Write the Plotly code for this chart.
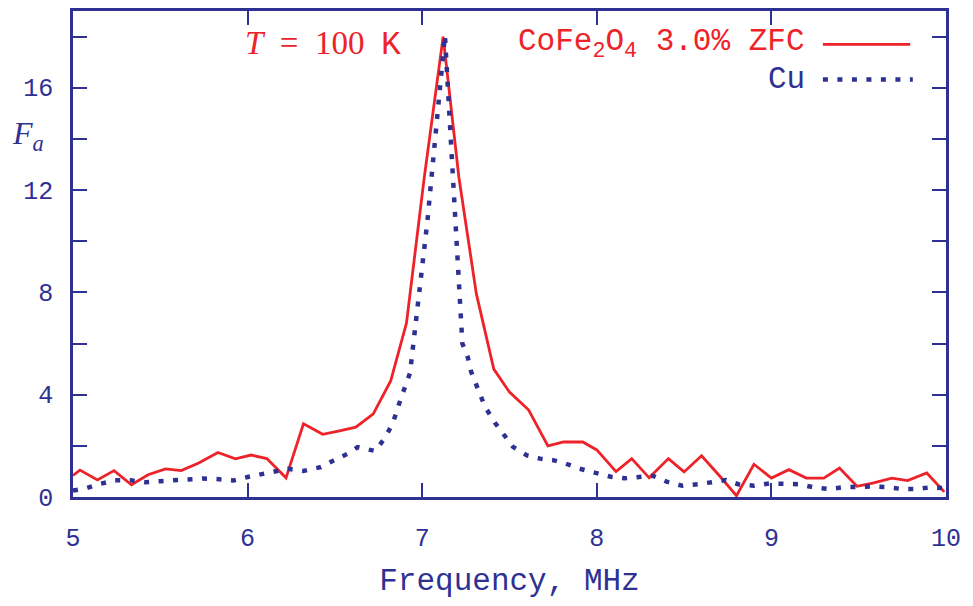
import plotly.graph_objects as go

# ---- data ----
red_f = [5.00, 5.04, 5.14, 5.235, 5.335, 5.43, 5.53, 5.62, 5.72, 5.83,
         5.93, 6.02, 6.11, 6.22, 6.32, 6.43, 6.52, 6.62, 6.72, 6.82,
         6.91, 7.01, 7.12, 7.21, 7.31, 7.41, 7.50, 7.61, 7.72, 7.81,
         7.92, 8.00, 8.11, 8.20, 8.30, 8.41, 8.50, 8.60, 8.70, 8.80,
         8.90, 9.00, 9.10, 9.20, 9.30, 9.39, 9.49, 9.58, 9.69, 9.78,
         9.89, 9.99]
red_F = [0.84, 1.05, 0.67, 1.03, 0.48, 0.87, 1.10, 1.03, 1.33, 1.74,
         1.49, 1.64, 1.50, 0.75, 2.86, 2.45, 2.58, 2.73, 3.25, 4.55,
         6.8, 12.4, 18.0, 12.5, 7.95, 5.0, 4.1, 3.4, 2.0, 2.15,
         2.15, 1.84, 0.99, 1.5, 0.75, 1.5, 0.98, 1.61, 0.85, 0.05,
         1.28, 0.74, 1.07, 0.74, 0.74, 1.13, 0.42, 0.54, 0.74, 0.64,
         0.94, 0.2]

cu_f = [5.00, 5.08, 5.16, 5.24, 5.33, 5.415, 5.50, 5.58, 5.67, 5.74,
        5.82, 5.92, 6.00, 6.085, 6.16, 6.23, 6.32, 6.42, 6.49, 6.57,
        6.63, 6.73, 6.78, 6.83, 6.88, 6.93, 7.03, 7.13, 7.23, 7.26,
        7.28, 7.31, 7.33, 7.36, 7.42, 7.47, 7.52, 7.60, 7.675, 7.75,
        7.82, 7.90, 8.00, 8.08, 8.16, 8.24, 8.32, 8.40, 8.49, 8.58,
        8.66, 8.74, 8.81, 8.90, 8.99, 9.08, 9.16, 9.24, 9.33, 9.41,
        9.49, 9.58, 9.67, 9.75, 9.83, 9.91, 10.0]
cu_F = [0.25, 0.35, 0.52, 0.65, 0.65, 0.58, 0.62, 0.65, 0.65, 0.72,
        0.70, 0.65, 0.78, 0.90, 1.03, 1.10, 1.02, 1.17, 1.42, 1.68,
        1.95, 1.80, 2.25, 2.85, 3.9, 4.84, 10.8, 18.05, 6.0, 5.49,
        4.9, 4.39, 3.97, 3.52, 2.87, 2.41, 1.96, 1.63, 1.50, 1.44,
        1.31, 1.11, 0.92, 0.79, 0.73, 0.79, 0.83, 0.6, 0.44, 0.5,
        0.6, 0.66, 0.5, 0.44, 0.53, 0.5, 0.5, 0.38, 0.31, 0.38,
        0.41, 0.41, 0.38, 0.31, 0.31, 0.38, 0.34]

x_ticks = [5, 6, 7, 8, 9, 10]
y_ticks = [0, 4, 8, 12, 16]
y_minor = [2, 6, 10, 14, 18]

RED = '#ee2229'
BLUE = '#2e3192'
MONO = 'Liberation Mono'
SERIF = 'Liberation Serif'

fig = go.Figure()
fig.add_trace(go.Scatter(x=red_f, y=red_F, mode='lines',
                         line=dict(color=RED, width=2.8),
                         name='CoFe2O4 3.0% ZFC', showlegend=False))
fig.add_trace(go.Scatter(x=cu_f, y=cu_F, mode='lines',
                         line=dict(color=BLUE, width=4.5, dash='5px,9.5px'),
                         name='Cu', showlegend=False))

axis_common = dict(showgrid=False, zeroline=False, showline=True,
                   linecolor=BLUE, linewidth=2.5, mirror='ticks',
                   ticks='inside', ticklen=14, tickwidth=2, tickcolor=BLUE,
                   tickfont=dict(family=MONO, size=25, color=BLUE))

fig.update_xaxes(range=[5, 10], tickvals=x_ticks, ticktext=[str(v) for v in x_ticks],
                 ticklabelstandoff=16,
                 title=dict(text='Frequency, MHz', font=dict(family=MONO, size=31, color=BLUE),
                            standoff=16),
                 **axis_common)
fig.update_yaxes(range=[0, 19], tickvals=y_ticks, ticktext=[str(v) for v in y_ticks],
                 ticklabelstandoff=12,
                 minor=dict(tickvals=y_minor, ticks='inside', ticklen=14, tickwidth=1.5,
                            tickcolor=BLUE, showgrid=False),
                 **axis_common)

# legend (text left, sample right, as in the original)
fig.add_annotation(xref='paper', yref='paper', x=0.841, y=0.9315,
                   xanchor='right', yanchor='middle', showarrow=False,
                   text='CoFe<sub>2</sub>O<sub>4</sub> 3.0% ZFC',
                   font=dict(family=MONO, size=31, color=RED))
fig.add_annotation(xref='paper', yref='paper', x=0.841, y=0.859,
                   xanchor='right', yanchor='middle', showarrow=False,
                   text='Cu', font=dict(family=MONO, size=31, color=BLUE))
fig.add_shape(type='line', xref='paper', yref='paper', x0=0.859, x1=0.959,
              y0=0.9315, y1=0.9315, line=dict(color=RED, width=2.8))
fig.add_shape(type='line', xref='paper', yref='paper', x0=0.859, x1=0.962,
              y0=0.859, y1=0.859, line=dict(color=BLUE, width=4.5, dash='5px,9.5px'))

# temperature label
fig.add_annotation(xref='paper', yref='paper', x=0.195, y=0.9315,
                   xanchor='left', yanchor='middle', showarrow=False,
                   text="<i>T</i>&nbsp;&nbsp;=&nbsp;&nbsp;100&nbsp;&nbsp;<span style='font-family:Liberation Mono'>K</span>",
                   font=dict(family=SERIF, size=33, color=RED))

# y axis label
fig.add_annotation(xref='paper', yref='paper', x=-0.0515, y=0.744,
                   xanchor='center', yanchor='middle', showarrow=False,
                   text='<i>F<sub>a</sub></i>',
                   font=dict(family=SERIF, size=32, color=BLUE))

fig.update_layout(width=973, height=606, margin=dict(l=73, r=27, t=8, b=109),
                  paper_bgcolor='white', plot_bgcolor='white')

fig.write_html('out.html')
